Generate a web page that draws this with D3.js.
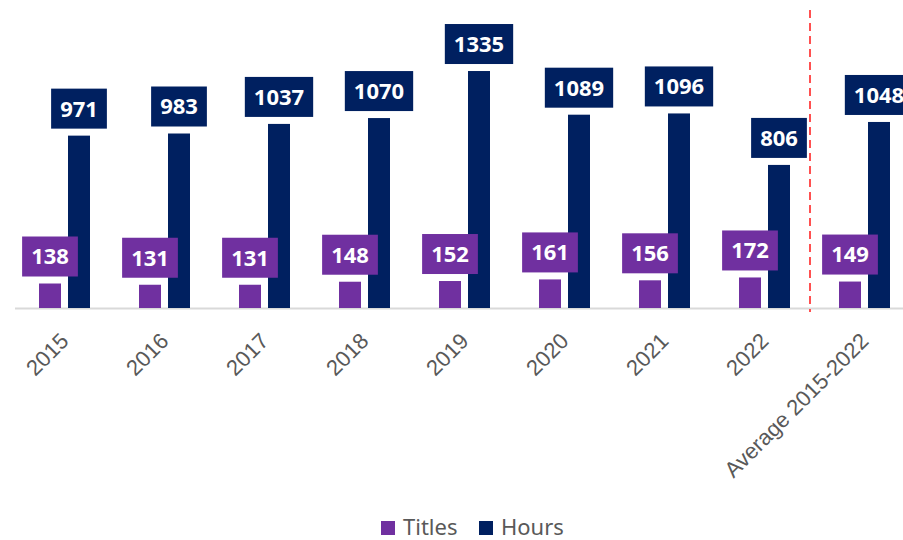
<!DOCTYPE html>
<meta charset="utf-8">
<style>
body { margin: 0; background: #fff; }
svg { font-family: "Noto Sans", sans-serif; }
.axis text { fill: #595959; font-size: 22px; }
.lbl text { fill: #fff; font-size: 22px; font-weight: 700; }
</style>
<svg width="903" height="540"></svg>
<script src="https://d3js.org/d3.v7.min.js"></script>
<script>
// data
var categories = ["2015", "2016", "2017", "2018", "2019", "2020", "2021", "2022", "Average 2015-2022"];
var titles = [138, 131, 131, 148, 152, 161, 156, 172, 149];
var hours = [971, 983, 1037, 1070, 1335, 1089, 1096, 806, 1048];
var seriesNames = ["Titles", "Hours"];
var colors = ["#7030A0", "#002060"];

var svg = d3.select("svg");

var x = d3.scaleBand().domain(categories).range([14.5, 914.5]);
var y = d3.scaleLinear().domain([0, 1690]).range([308, 8]);

var barW = 22, gap = 7;

// axis
var axis = svg.append("g")
    .attr("class", "axis")
    .attr("transform", "translate(0,308)")
    .call(d3.axisBottom(x).tickSize(0));
axis.select(".domain").attr("stroke", "#d9d9d9").attr("stroke-width", 2);
axis.selectAll("text")
    .attr("x", 0).attr("y", 0).attr("dy", "0.35em")
    .attr("text-anchor", "end")
    .attr("transform", "translate(0,29) rotate(-45)")
    .style("font-size", "22px");

// red dashed separator before the average
svg.append("line")
    .attr("x1", x(categories[8]) - 4.5).attr("x2", x(categories[8]) - 4.5)
    .attr("y1", 10).attr("y2", 312)
    .attr("stroke", "#FF5050").attr("stroke-width", 2)
    .attr("stroke-dasharray", "8,5");

var data = categories.map(function(c, i) { return {cat: c, vals: [titles[i], hours[i]]}; });

function offset(s) {
  return s === 0 ? x.bandwidth() / 2 - gap / 2 - barW : x.bandwidth() / 2 + gap / 2;
}

// bars
[0, 1].forEach(function(s) {
  svg.append("g").selectAll("rect")
    .data(data).enter().append("rect")
      .attr("x", function(d) { return x(d.cat) + offset(s); })
      .attr("y", function(d) { return y(d.vals[s]); })
      .attr("width", barW)
      .attr("height", function(d) { return y(0) - y(d.vals[s]); })
      .attr("fill", colors[s]);
});

// value labels on top
[0, 1].forEach(function(s) {
  var lbl = svg.append("g").attr("class", "lbl").selectAll("g")
    .data(data).enter().append("g")
      .attr("transform", function(d) {
        return "translate(" + (x(d.cat) + offset(s) + barW / 2) + "," + (y(d.vals[s]) - 27) + ")";
      });
  lbl.append("rect").attr("fill", colors[s]);
  lbl.append("text")
      .attr("text-anchor", "middle")
      .attr("dy", "0.36em")
      .text(function(d) { return d.vals[s]; })
      .each(function() {
        var w = this.getComputedTextLength() + 18;
        d3.select(this.parentNode).select("rect")
          .attr("x", -w / 2).attr("y", -20).attr("width", w).attr("height", 40);
      });
});

// legend
var legend = svg.append("g").attr("transform", "translate(381,521)");
var lx = [0, 98];
seriesNames.forEach(function(n, i) {
  var g = legend.append("g").attr("transform", "translate(" + lx[i] + ",0)");
  g.append("rect").attr("width", 14).attr("height", 14).attr("fill", colors[i]);
  g.append("text").attr("x", 22).attr("y", 7).attr("dy", "0.34em")
    .attr("fill", "#595959").style("font-size", "22px").text(n);
});
</script>
